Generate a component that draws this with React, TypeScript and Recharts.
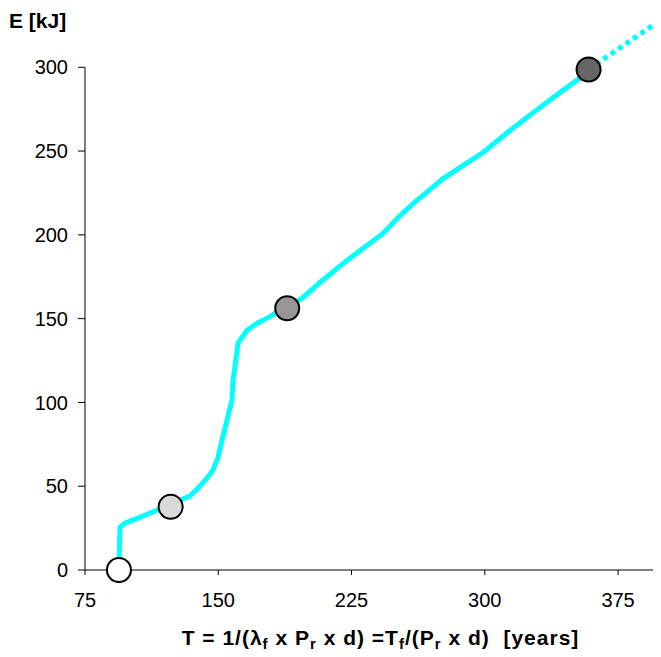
import { ComposedChart, Line, Scatter, XAxis, YAxis, ReferenceLine, Label } from "recharts";

// main curve
const curveT = [
  94.1, 94.7, 97.5, 104.8, 117.2, 123.2, 128.5, 134.1, 138.6, 144.2, 147.0, 149.9, 152.1,
  154.9, 157.7, 158.3, 159.4, 161.1, 163.4, 166.2, 171.8, 177.5, 183.1, 188.8, 197.8, 207.4,
  222.6, 242.9, 250.8, 259.8, 276.7, 299.2, 314.4, 327.4, 338.7, 355.6, 358.4,
];
const curveE = [
  0, 25.6, 28.0, 31.0, 36.4, 37.7, 41.7, 44.1, 48.9, 55.5, 59.6, 67.4, 77.5,
  89.4, 101.4, 113.3, 121.0, 135.4, 138.9, 143.1, 147.3, 150.3, 153.8, 156.2, 162.8, 171.7,
  184.9, 201.0, 209.9, 218.8, 233.7, 249.3, 262.4, 273.1, 282.1, 295.2, 298.7,
];

// dotted extension
const extT = [358.4, 396.9];
const extE = [298.7, 326.8];

// circle markers
const markerT = [94.1, 123.2, 188.8, 358.4];
const markerE = [0, 37.7, 156.2, 298.7];
const markerFill = ["#ffffff", "#d9d9d9", "#969696", "#666666"];

const xTicks = [75, 150, 225, 300, 375];
const yTicks = [0, 50, 100, 150, 200, 250, 300];

const curve = curveT.map((t, i) => ({ t, e: curveE[i] }));
const ext = extT.map((t, i) => ({ t, e: extE[i] }));
const markers = markerT.map((t, i) => ({ t, e: markerE[i], fill: markerFill[i] }));

const font = "'Liberation Sans', Arial, sans-serif";

const Marker = (props: any) => {
  const { cx, cy, payload } = props;
  return <circle cx={cx} cy={cy} r={12} fill={payload.fill} stroke="#000" strokeWidth={2} />;
};

const XTitle = (props: any) => {
  const vb = props.viewBox;
  const sub = { baselineShift: "-4px", fontSize: 15 } as any;
  return (
    <text
      x={vb.x + vb.width / 2 + 8}
      y={vb.y + 75}
      textAnchor="middle"
      fontFamily={font}
      fontWeight="bold"
      fontSize={21}
      fill="#000"
      style={{ whiteSpace: "pre", letterSpacing: 1 }}
    >
      <tspan>T = 1/(λ</tspan>
      <tspan style={sub}>f</tspan>
      <tspan> x P</tspan>
      <tspan style={sub}>r</tspan>
      <tspan> x d) =T</tspan>
      <tspan style={sub}>f</tspan>
      <tspan>/(P</tspan>
      <tspan style={sub}>r</tspan>
      <tspan>{" x d)  [years]"}</tspan>
    </text>
  );
};

const YTitle = () => (
  <text x={1} y={20} fontFamily={font} fontWeight="bold" fontSize={21} fill="#000">
    E [kJ]
  </text>
);

export default function App() {
  return (
    <div style={{ position: "relative" }}>
      <div
        style={{ position: "absolute", top: -8, left: -8, width: 661, height: 2, background: "#0a7fa6" }}
      />
      <ComposedChart
        width={653}
        height={645}
        margin={{ top: 9, right: 1, left: 0, bottom: 0 }}
        style={{ fontFamily: font }}
      >
        <XAxis
          type="number"
          dataKey="t"
          domain={[75, 398.6]}
          ticks={xTicks}
          interval={0}
          height={83}
          axisLine={{ stroke: "#000" }}
          tickLine={{ stroke: "#000" }}
          tickSize={5}
          tickMargin={18}
          tick={{ fill: "#000", fontSize: 20, fontFamily: font }}
        >
          <Label content={XTitle} />
        </XAxis>
        <YAxis
          type="number"
          dataKey="e"
          domain={[0, 330]}
          ticks={yTicks}
          interval={0}
          width={77}
          axisLine={false}
          tickLine={{ stroke: "#000" }}
          tickSize={7}
          tickMargin={10}
          tick={{ fill: "#000", fontSize: 20, fontFamily: font }}
        >
          <Label content={YTitle} />
        </YAxis>
        <ReferenceLine
          segment={[
            { x: 75, y: 0 },
            { x: 75, y: 300 },
          ]}
          stroke="#000"
          strokeWidth={1}
        />
        <Line
          data={curve}
          dataKey="e"
          type="linear"
          stroke="#00ffff"
          strokeWidth={5}
          dot={false}
          activeDot={false}
          isAnimationActive={false}
        />
        <Line
          data={ext}
          dataKey="e"
          type="linear"
          stroke="#00ffff"
          strokeWidth={5}
          strokeDasharray="5 4"
          dot={false}
          activeDot={false}
          isAnimationActive={false}
        />
        <Scatter data={markers} dataKey="e" shape={Marker} isAnimationActive={false} />
      </ComposedChart>
    </div>
  );
}
